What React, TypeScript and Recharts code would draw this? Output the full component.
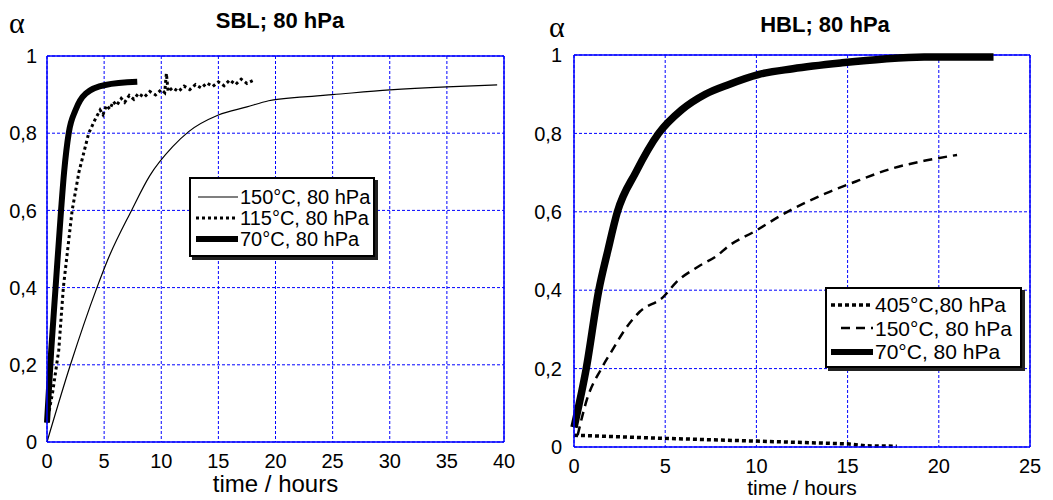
import React from 'react';
import {
    LineChart, Line, XAxis, YAxis, CartesianGrid, ReferenceLine, Legend, Label
} from 'recharts';

// time (h), alpha
const sbl150: number[][] = [
    [0, 0], [2.05, 0.2], [4.37, 0.4], [5.3, 0.471], [7.4, 0.6], [9, 0.69], [11, 0.765],
    [12.4, 0.804], [15, 0.847], [17.5, 0.868], [19.4, 0.884], [22.5, 0.894], [25, 0.9],
    [30, 0.912], [35, 0.92], [39.4, 0.925]
];
const sbl115: number[][] = [
    [0, 0.05], [0.5, 0.13], [1.03, 0.238], [1.43, 0.4], [2.2, 0.6], [2.8, 0.7], [3.65, 0.8],
    [4.2, 0.835], [4.65, 0.86], [4.9, 0.848], [5.2, 0.872], [5.5, 0.862], [5.8, 0.882],
    [6.1, 0.872], [6.5, 0.89], [6.8, 0.88], [7.2, 0.898], [7.6, 0.888], [8, 0.903],
    [8.5, 0.893], [9, 0.908], [9.5, 0.899], [10, 0.913], [10.3, 0.905], [10.45, 0.955],
    [10.6, 0.908], [11, 0.918], [11.5, 0.908], [12, 0.922], [12.5, 0.913], [13, 0.926],
    [13.5, 0.917], [14, 0.93], [14.5, 0.921], [15, 0.933], [15.5, 0.923], [16, 0.938],
    [16.5, 0.926], [17, 0.94], [17.5, 0.929], [18, 0.936]
];
const sbl70: number[][] = [
    [0, 0.05], [0.37, 0.238], [0.75, 0.4], [1.23, 0.6], [1.5, 0.7], [1.9, 0.8], [2.5, 0.86],
    [3.4, 0.903], [5.1, 0.925], [7.9, 0.933]
];

const hbl405: number[][] = [
    [0, 0.03], [5, 0.022], [10, 0.015], [15, 0.008], [16, 0.003], [17.7, 0.002]
];
const hbl150: number[][] = [
    [0.2, 0.03], [0.7, 0.12], [1.5, 0.2], [2.1, 0.247], [2.8, 0.3], [3.6, 0.345], [4.9, 0.383],
    [5.6, 0.42], [6.8, 0.46], [7.9, 0.49], [8.4, 0.51], [9.9, 0.55], [11.7, 0.6], [13.8, 0.647],
    [15.6, 0.68], [17.4, 0.71], [19.2, 0.73], [21, 0.745]
];
const hbl70: number[][] = [
    [0, 0.05], [0.67, 0.2], [1.36, 0.4], [1.85, 0.5], [2.38, 0.6], [3.38, 0.7], [4.64, 0.8],
    [5.9, 0.86], [7.2, 0.9], [8.5, 0.925], [10.1, 0.95], [12, 0.965], [14.7, 0.98],
    [17, 0.99], [19.2, 0.995], [23, 0.995]
];

const yTicks = [0, 0.2, 0.4, 0.6, 0.8, 1];
const sblXTicks = [0, 5, 10, 15, 20, 25, 30, 35, 40];
const hblXTicks = [0, 5, 10, 15, 20, 25];

const sblLegend = [
    { label: '150°C, 80 hPa', width: 1.2, dash: undefined, from: 2 },
    { label: '115°C, 80 hPa', width: 3, dash: '3 3', from: 0 },
    { label: '70°C, 80 hPa', width: 6, dash: undefined, from: 0 },
];
const hblLegend = [
    { label: '405°C,80 hPa', width: 3.5, dash: '4 3', from: 0 },
    { label: '150°C, 80 hPa', width: 2.5, dash: '9 6', from: 10 },
    { label: '70°C, 80 hPa', width: 6, dash: undefined, from: 0 },
];

const FONT = '"Liberation Sans", Arial, sans-serif';
const BLUE = '#0000ff';

const toPts = (arr: number[][]) => arr.map(([x, y]) => ({ x, y }));
const fmt = (v: number) => String(v).replace('.', ',');

const LegendBox = ({ items, width, height, fontSize, sample, rowH, padTop, padLeft }: any) => (
    <div style={{
        width, height, boxSizing: 'border-box', border: '2px solid #000', background: '#fff',
        boxShadow: '3px 3px 0 #222', fontFamily: FONT, fontSize, padding: `${padTop}px 0 0 ${padLeft}px`
    }}>
        {items.map((it: any) => (
            <div key={it.label} style={{ display: 'flex', alignItems: 'center', height: rowH, lineHeight: 1, whiteSpace: 'nowrap' }}>
                <svg width={sample} height={10} style={{ marginRight: 2 }}>
                    <line x1={it.from} y1={5} x2={sample} y2={5} stroke="#000" strokeWidth={it.width} strokeDasharray={it.dash} />
                </svg>
                <span>{it.label}</span>
            </div>
        ))}
    </div>
);

const tickStyle = { fill: '#000', fontSize: 20, fontFamily: FONT };

export default function App() {
    return (
        <div style={{ position: 'absolute', left: 0, top: 0, width: 1053, height: 500, background: '#fff', fontFamily: FONT }}>
            {/* left panel */}
            <div style={{ position: 'absolute', left: 9, top: 8, fontFamily: '"Liberation Serif", serif', fontSize: 30, lineHeight: '30px' }}>α</div>
            <div style={{ position: 'absolute', left: 180, width: 200, top: 10, textAlign: 'center', fontWeight: 'bold', fontSize: 22, lineHeight: '22px' }}>SBL; 80 hPa</div>
            <div style={{ position: 'absolute', left: 0, top: 0 }}>
                <LineChart width={526} height={500} margin={{ top: 56, right: 22, bottom: 28, left: 0 }}>
                    <CartesianGrid stroke={BLUE} strokeDasharray="3 2" />
                    <XAxis type="number" dataKey="x" domain={[0, 40]} ticks={sblXTicks} height={30}
                        stroke={BLUE} strokeWidth={1.5} tickLine={false} tickSize={0} tickMargin={12} tick={tickStyle}>
                        <Label value="time / hours" position="bottom" offset={3} style={{ fill: '#000', fontSize: 24, fontFamily: FONT }} />
                    </XAxis>
                    <YAxis type="number" domain={[0, 1]} ticks={yTicks} width={47} tickFormatter={fmt}
                        stroke={BLUE} strokeWidth={1.5} tickLine={false} tickSize={0} tickMargin={10} tick={tickStyle} />
                    <ReferenceLine x={40} stroke={BLUE} strokeWidth={1.5} />
                    <ReferenceLine y={1} stroke={BLUE} strokeWidth={1.5} />
                    <Line data={toPts(sbl150)} dataKey="y" type="monotone" stroke="#000" strokeWidth={1.2} dot={false} isAnimationActive={false} />
                    <Line data={toPts(sbl115)} dataKey="y" type="linear" stroke="#000" strokeWidth={3} strokeDasharray="3 3" dot={false} isAnimationActive={false} />
                    <Line data={toPts(sbl70)} dataKey="y" type="monotone" stroke="#000" strokeWidth={6} dot={false} isAnimationActive={false} />
                    <Legend layout="horizontal" verticalAlign="middle" align="center"
                        wrapperStyle={{ left: 189, top: 177, width: 186, height: 80 }}
                        content={() => <LegendBox items={sblLegend} width={186} height={80} fontSize={20}
                            sample={42} rowH={21} padTop={7} padLeft={5} />} />
                </LineChart>
            </div>

            {/* right panel */}
            <div style={{ position: 'absolute', left: 549, top: 12, fontFamily: '"Liberation Serif", serif', fontSize: 30, lineHeight: '30px' }}>α</div>
            <div style={{ position: 'absolute', left: 725, width: 200, top: 14, textAlign: 'center', fontWeight: 'bold', fontSize: 22, lineHeight: '22px' }}>HBL; 80 hPa</div>
            <div style={{ position: 'absolute', left: 527, top: 0 }}>
                <LineChart width={526} height={500} margin={{ top: 55, right: 23, bottom: 23, left: 0 }}>
                    <CartesianGrid stroke={BLUE} strokeDasharray="3 2" />
                    <XAxis type="number" dataKey="x" domain={[0, 25]} ticks={hblXTicks} height={30}
                        stroke={BLUE} strokeWidth={1.5} tickLine={false} tickSize={0} tickMargin={12} tick={tickStyle}>
                        <Label value="time / hours" position="bottom" offset={3} style={{ fill: '#000', fontSize: 21, fontFamily: FONT }} />
                    </XAxis>
                    <YAxis type="number" domain={[0, 1]} ticks={yTicks} width={47} tickFormatter={fmt}
                        stroke={BLUE} strokeWidth={1.5} tickLine={false} tickSize={0} tickMargin={12} tick={tickStyle} />
                    <ReferenceLine x={25} stroke={BLUE} strokeWidth={1.5} />
                    <ReferenceLine y={1} stroke={BLUE} strokeWidth={1.5} />
                    <Line data={toPts(hbl405)} dataKey="y" type="linear" stroke="#000" strokeWidth={3.5} strokeDasharray="4 3" dot={false} isAnimationActive={false} />
                    <Line data={toPts(hbl150)} dataKey="y" type="monotone" stroke="#000" strokeWidth={2.5} strokeDasharray="9 6" dot={false} isAnimationActive={false} />
                    <Line data={toPts(hbl70)} dataKey="y" type="monotone" stroke="#000" strokeWidth={7.5} dot={false} isAnimationActive={false} />
                    <Legend layout="horizontal" verticalAlign="middle" align="center"
                        wrapperStyle={{ left: 298, top: 287, width: 197, height: 81 }}
                        content={() => <LegendBox items={hblLegend} width={197} height={81} fontSize={21}
                            sample={42} rowH={23.5} padTop={4} padLeft={4} />} />
                </LineChart>
            </div>
        </div>
    );
}
